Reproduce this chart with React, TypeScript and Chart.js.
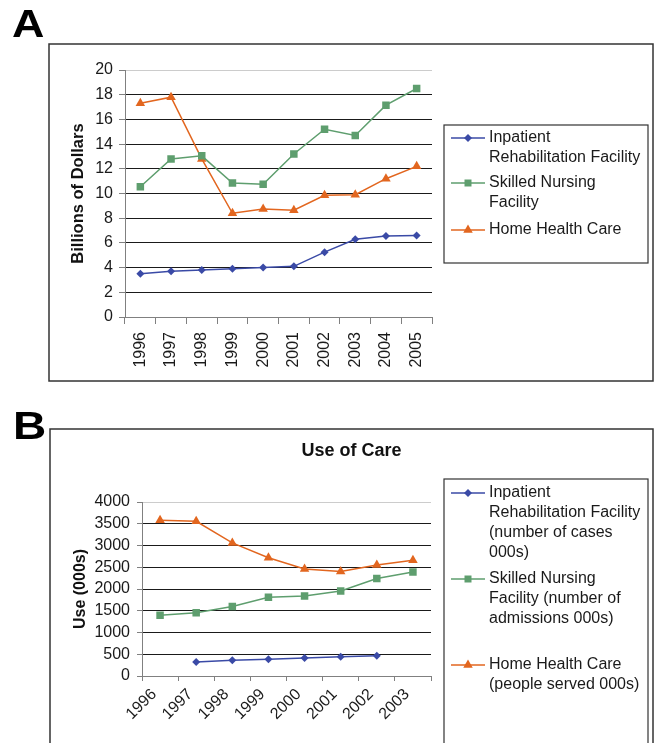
import React, { useEffect, useRef } from 'react';
import { Chart, registerables } from 'chart.js';

Chart.register(...registerables);

const FONT = "'Liberation Sans', Arial, Helvetica, sans-serif";

// ---------- Panel A data ----------
const yearsA = ['1996', '1997', '1998', '1999', '2000', '2001', '2002', '2003', '2004', '2005'];
const inpatientSpending = [3.5, 3.7, 3.8, 3.9, 4.0, 4.1, 5.25, 6.3, 6.55, 6.6];
const snfSpending = [10.55, 12.8, 13.05, 10.85, 10.75, 13.2, 15.2, 14.7, 17.15, 18.5];
const hhcSpending = [17.3, 17.8, 12.8, 8.4, 8.75, 8.65, 9.85, 9.9, 11.2, 12.2];
const yTitleA = 'Billions of Dollars';
const legendA = [
  ['Inpatient', 'Rehabilitation Facility'],
  ['Skilled Nursing', 'Facility'],
  ['Home Health Care'],
];

// ---------- Panel B data ----------
const yearsB = ['1996', '1997', '1998', '1999', '2000', '2001', '2002', '2003'];
const inpatientUse = [null, 320, 360, 385, 415, 445, 465, null];
const snfUse = [1395, 1455, 1600, 1810, 1840, 1955, 2240, 2390];
const hhcUse = [3580, 3555, 3060, 2720, 2460, 2400, 2550, 2660];
const titleB = 'Use of Care';
const yTitleB = 'Use (000s)';
const legendB = [
  ['Inpatient', 'Rehabilitation Facility', '(number of cases', '000s)'],
  ['Skilled Nursing', 'Facility (number of', 'admissions 000s)'],
  ['Home Health Care', '(people served 000s)'],
];

const BLUE = '#3a4aa6';
const GREEN = '#5e9e6e';
const ORANGE = '#e2661f';
const COLORS = [BLUE, GREEN, ORANGE];
const STYLES = ['rectRot', 'rect', 'triangle'];

function drawMarker(ctx: CanvasRenderingContext2D, style: string, x: number, y: number, color: string) {
  ctx.save();
  ctx.fillStyle = color;
  ctx.beginPath();
  if (style === 'rectRot') {
    const r = 4;
    ctx.moveTo(x, y - r);
    ctx.lineTo(x + r, y);
    ctx.lineTo(x, y + r);
    ctx.lineTo(x - r, y);
  } else if (style === 'rect') {
    ctx.rect(x - 3.5, y - 3.5, 7, 7);
  } else {
    const r = 5.5;
    ctx.moveTo(x, y - r);
    ctx.lineTo(x + r * 0.866, y + r / 2);
    ctx.lineTo(x - r * 0.866, y + r / 2);
  }
  ctx.closePath();
  ctx.fill();
  ctx.restore();
}

function makeDataset(label: string, data: (number | null)[], i: number, sizes: number[]) {
  return {
    label,
    data,
    borderColor: COLORS[i],
    backgroundColor: COLORS[i],
    pointBackgroundColor: COLORS[i],
    pointBorderColor: COLORS[i],
    pointStyle: STYLES[i],
    pointRadius: sizes[i],
    pointBorderWidth: 0,
    borderWidth: 1.5,
    tension: 0,
    spanGaps: false,
  };
}

type PanelCfg = {
  box: [number, number, number, number];
  legendBox: [number, number, number, number];
  legendLines: string[][];
  legendLineYs: number[][];
  title?: string;
  titlePos?: [number, number];
};

function panelPlugin(id: string, cfg: PanelCfg) {
  return {
    id,
    afterDraw(chart: any) {
      const ctx: CanvasRenderingContext2D = chart.ctx;
      ctx.save();
      ctx.strokeStyle = '#333';
      ctx.lineWidth = 1.5;
      const [bx, by, bw, bh] = cfg.box;
      ctx.strokeRect(bx, by, bw, bh);
      const [lx, ly, lw, lh] = cfg.legendBox;
      ctx.lineWidth = 1.2;
      ctx.strokeRect(lx, ly, lw, lh);
      ctx.font = `16px ${FONT}`;
      ctx.fillStyle = '#1a1a1a';
      ctx.textBaseline = 'middle';
      ctx.textAlign = 'left';
      cfg.legendLines.forEach((lines, i) => {
        const ys = cfg.legendLineYs[i];
        lines.forEach((t, j) => ctx.fillText(t, lx + 45, ly + ys[j]));
        const cy = ly + ys[0];
        ctx.strokeStyle = COLORS[i];
        ctx.lineWidth = 1.5;
        ctx.beginPath();
        ctx.moveTo(lx + 7, cy);
        ctx.lineTo(lx + 41, cy);
        ctx.stroke();
        drawMarker(ctx, STYLES[i], lx + 24, cy, COLORS[i]);
      });
      if (cfg.title && cfg.titlePos) {
        ctx.font = `bold 18px ${FONT}`;
        ctx.fillStyle = '#111';
        ctx.textAlign = 'center';
        ctx.fillText(cfg.title, cfg.titlePos[0], cfg.titlePos[1]);
      }
      ctx.restore();
    },
  };
}

function scales(opts: {
  max: number;
  step: number;
  yWidth: number;
  xHeight: number;
  yTitle: string;
  yTitleSize: number;
  yTitlePad: number;
  rotation: number;
  xTickLen: number;
  yTickLen: number;
  xPad: number;
  yPad: number;
  labelOffset: number;
}) {
  return {
    x: {
      type: 'category',
      offset: true,
      afterFit: (s: any) => {
        s.height = opts.xHeight;
      },
      grid: {
        offset: true,
        drawOnChartArea: false,
        drawTicks: true,
        tickLength: opts.xTickLen,
        tickColor: '#808080',
        tickWidth: 1,
      },
      border: { display: true, color: '#808080', width: 1 },
      ticks: {
        autoSkip: false,
        minRotation: opts.rotation,
        maxRotation: opts.rotation,
        padding: opts.xPad,
        labelOffset: opts.labelOffset,
        color: '#1a1a1a',
        font: { family: FONT, size: 16 },
      },
    },
    y: {
      min: 0,
      max: opts.max,
      afterFit: (s: any) => {
        s.width = opts.yWidth;
      },
      grid: {
        drawOnChartArea: true,
        drawTicks: true,
        tickLength: opts.yTickLen,
        tickColor: '#808080',
        lineWidth: 1,
        color: (c: any) => {
          const v = c.tick ? c.tick.value : -1;
          if (v === opts.max) return '#cccccc';
          if (v === 0) return '#808080';
          return '#1a1a1a';
        },
      },
      border: { display: true, color: '#808080', width: 1 },
      ticks: {
        stepSize: opts.step,
        autoSkip: false,
        padding: opts.yPad,
        color: '#1a1a1a',
        font: { family: FONT, size: 16 },
        callback: (v: any) => String(v),
      },
      title: {
        display: true,
        text: opts.yTitle,
        color: '#111',
        font: { family: FONT, size: opts.yTitleSize, weight: 'bold' },
        padding: { top: opts.yTitlePad, bottom: 0 },
      },
    },
  };
}

export default function App() {
  const refA = useRef<HTMLCanvasElement | null>(null);
  const refB = useRef<HTMLCanvasElement | null>(null);

  useEffect(() => {
    const chartA = new Chart(refA.current as HTMLCanvasElement, {
      type: 'line',
      data: {
        labels: yearsA,
        datasets: [
          makeDataset(legendA[0].join(' '), inpatientSpending, 0, [4, 5.3, 5.5]),
          makeDataset(legendA[1].join(' '), snfSpending, 1, [4, 5.3, 5.5]),
          makeDataset(legendA[2].join(' '), hhcSpending, 2, [4, 5.3, 5.5]),
        ],
      },
      options: {
        responsive: false,
        animation: false,
        devicePixelRatio: 1,
        layout: { padding: { left: 60, top: 70, right: 224, bottom: 23 } },
        plugins: { legend: { display: false }, tooltip: { enabled: false }, title: { display: false } },
        scales: scales({
          max: 20,
          step: 2,
          yWidth: 65,
          xHeight: 60,
          yTitle: yTitleA,
          yTitleSize: 16.5,
          yTitlePad: 9,
          rotation: 90,
          xTickLen: 7,
          yTickLen: 6,
          xPad: 8,
          yPad: 6,
          labelOffset: 0,
        }) as any,
      },
      plugins: [
        panelPlugin('panelA', {
          box: [49, 44, 604, 337],
          legendBox: [444, 125, 204, 138],
          legendLines: legendA,
          legendLineYs: [[13, 33], [58, 78], [105]],
        }),
      ],
    } as any);

    const chartB = new Chart(refB.current as HTMLCanvasElement, {
      type: 'line',
      data: {
        labels: yearsB,
        datasets: [
          makeDataset(legendB[0].join(' '), inpatientUse, 0, [4, 5.3, 5.5]),
          makeDataset(legendB[1].join(' '), snfUse, 1, [4, 5.3, 5.5]),
          makeDataset(legendB[2].join(' '), hhcUse, 2, [4, 5.3, 5.5]),
        ],
      },
      options: {
        responsive: false,
        animation: false,
        devicePixelRatio: 1,
        layout: { padding: { left: 60, top: 102, right: 225, bottom: 17 } },
        plugins: { legend: { display: false }, tooltip: { enabled: false }, title: { display: false } },
        scales: scales({
          max: 4000,
          step: 500,
          yWidth: 82,
          xHeight: 50,
          yTitle: yTitleB,
          yTitleSize: 16,
          yTitlePad: 11,
          rotation: 45,
          xTickLen: 5,
          yTickLen: 5,
          xPad: 4,
          yPad: 7,
          labelOffset: -6,
        }) as any,
      },
      plugins: [
        panelPlugin('panelB', {
          box: [50, 29, 603, 340],
          legendBox: [444, 79, 204, 300],
          legendLines: legendB,
          legendLineYs: [[14, 34, 54, 74], [100, 120, 140], [186, 206]],
          title: titleB,
          titlePos: [351.5, 51],
        }),
      ],
    } as any);

    return () => {
      chartA.destroy();
      chartB.destroy();
    };
  }, []);

  const letter: React.CSSProperties = {
    position: 'absolute',
    fontFamily: FONT,
    fontWeight: 'bold',
    fontSize: 38,
    lineHeight: '38px',
    color: '#000',
    margin: 0,
    transform: 'scaleX(1.18)',
    transformOrigin: 'left top',
  };

  return (
    <div style={{ position: 'absolute', left: 0, top: 0, width: 656, height: 743, overflow: 'hidden', background: '#fff' }}>
      <canvas ref={refA} width={656} height={400} style={{ position: 'absolute', left: 0, top: 0 }} />
      <canvas ref={refB} width={656} height={343} style={{ position: 'absolute', left: 0, top: 400 }} />
      <div style={{ ...letter, left: 12, top: 5 }}>A</div>
      <div style={{ ...letter, left: 13, top: 406, fontSize: 39, lineHeight: '39px' }}>B</div>
    </div>
  );
}
